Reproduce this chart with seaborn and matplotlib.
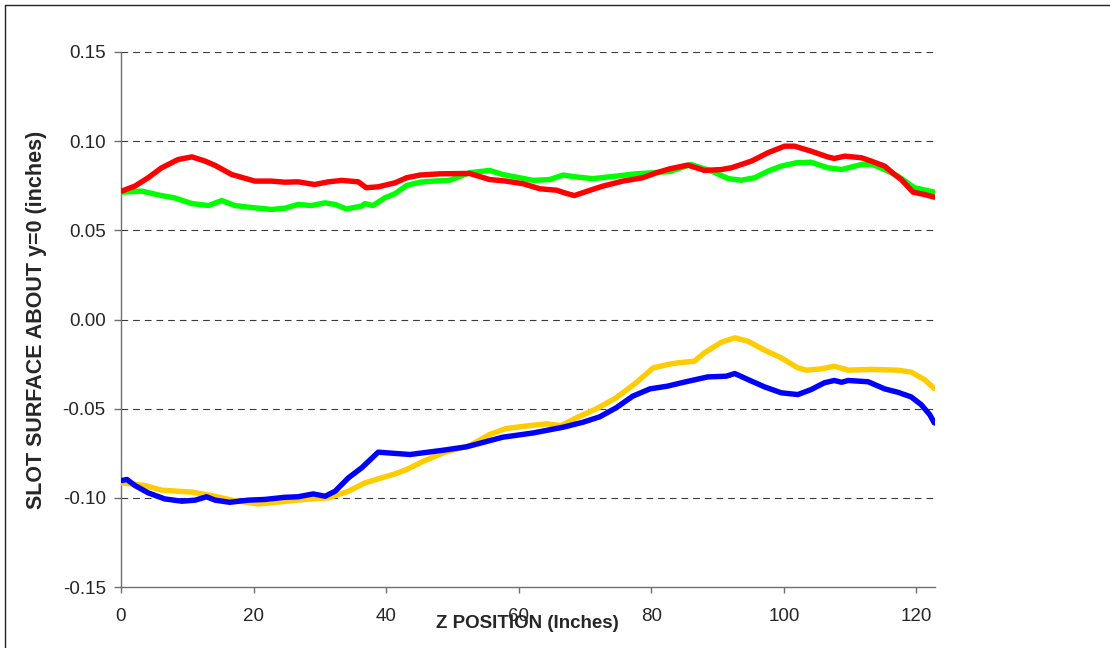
import matplotlib

matplotlib.use("Agg")
import matplotlib.pyplot as plt
from matplotlib.lines import Line2D
import pandas as pd
import seaborn as sns

# values (z in inches, surface in inches)
red_z = [0.1, 2.1, 4.1, 6.1, 8.6, 10.7, 12.7, 14.2, 16.7, 20.2, 22.7, 24.7, 26.7, 29.2,
         31.3, 33.3, 35.8, 37.0, 38.8, 41.3, 43.1, 45.1, 48.1, 52.6, 55.6, 58.1, 60.7,
         63.2, 65.7, 67.2, 68.4, 70.7, 72.7, 75.7, 78.7, 80.8, 82.8, 85.5, 88.0, 90.6,
         92.1, 95.1, 97.6, 100.1, 101.6, 104.1, 106.6, 107.6, 109.2, 111.7, 113.2,
         115.2, 116.7, 117.7, 119.5, 121.2, 122.7]
red_y = [0.0720, 0.0748, 0.0795, 0.0850, 0.0897, 0.0912, 0.0888, 0.0864, 0.0813, 0.0776,
         0.0776, 0.0770, 0.0772, 0.0757, 0.0772, 0.0780, 0.0772, 0.0739, 0.0744, 0.0766,
         0.0795, 0.0810, 0.0817, 0.0819, 0.0785, 0.0776, 0.0761, 0.0733, 0.0725, 0.0707,
         0.0695, 0.0724, 0.0748, 0.0776, 0.0795, 0.0823, 0.0845, 0.0866, 0.0836, 0.0841,
         0.0851, 0.0888, 0.0935, 0.0972, 0.0972, 0.0944, 0.0912, 0.0903, 0.0916, 0.0907,
         0.0888, 0.0860, 0.0813, 0.0785, 0.0714, 0.0701, 0.0686]

green_z = [0.1, 3.1, 6.1, 8.1, 10.7, 13.2, 15.2, 17.2, 19.2, 22.7, 24.7, 26.7, 28.7, 30.8,
           32.3, 34.0, 36.3, 36.8, 38.0, 39.8, 41.3, 43.1, 45.1, 47.1, 49.6, 52.6, 55.6,
           57.6, 62.2, 64.7, 66.7, 68.7, 71.2, 74.7, 77.7, 80.3, 82.8, 86.0, 89.1, 91.6,
           93.6, 95.6, 97.6, 99.6, 101.9, 104.1, 106.6, 108.7, 111.7, 113.4, 115.2,
           117.2, 119.7, 122.7]
green_y = [0.0714, 0.0720, 0.0695, 0.0682, 0.0650, 0.0639, 0.0667, 0.0639, 0.0630, 0.0617,
           0.0624, 0.0645, 0.0639, 0.0654, 0.0645, 0.0620, 0.0636, 0.0650, 0.0639, 0.0682,
           0.0705, 0.0752, 0.0770, 0.0776, 0.0781, 0.0823, 0.0836, 0.0813, 0.0780, 0.0785,
           0.0810, 0.0799, 0.0790, 0.0804, 0.0817, 0.0823, 0.0830, 0.0869, 0.0832, 0.0790,
           0.0781, 0.0795, 0.0832, 0.0860, 0.0879, 0.0882, 0.0851, 0.0841, 0.0869, 0.0869,
           0.0841, 0.0804, 0.0739, 0.0714]

yellow_z = [0.1, 3.6, 6.1, 10.7, 13.7, 16.7, 20.7, 24.2, 27.7, 31.3, 34.3, 36.8, 39.3,
            41.3, 43.1, 45.6, 48.6, 52.6, 55.6, 58.1, 61.7, 64.2, 66.4, 68.7, 71.7, 74.7,
            77.7, 80.3, 82.8, 84.0, 86.5, 88.0, 90.6, 92.6, 94.6, 97.1, 99.6, 102.1,
            103.4, 105.6, 107.6, 109.7, 113.2, 117.2, 119.2, 121.2, 122.7]
yellow_y = [-0.0916, -0.0931, -0.0957, -0.0968, -0.0987, -0.1013, -0.1034, -0.1022, -0.1009,
            -0.1000, -0.0963, -0.0916, -0.0888, -0.0866, -0.0841, -0.0795, -0.0748, -0.0707,
            -0.0645, -0.0611, -0.0595, -0.0585, -0.0595, -0.0551, -0.0501, -0.0439, -0.0355,
            -0.0271, -0.0250, -0.0243, -0.0234, -0.0187, -0.0127, -0.0103, -0.0122, -0.0172,
            -0.0215, -0.0271, -0.0284, -0.0277, -0.0262, -0.0284, -0.0280, -0.0284, -0.0295,
            -0.0337, -0.0387]

blue_z = [0.1, 0.9, 2.1, 4.1, 6.6, 9.2, 11.2, 12.9, 14.2, 16.4, 19.2, 21.7, 24.7, 26.7,
          29.0, 30.8, 32.3, 34.3, 36.3, 38.8, 41.0, 43.6, 48.6, 52.1, 57.6, 62.2, 66.7,
          69.7, 72.2, 74.7, 77.2, 79.8, 82.4, 85.0, 88.5, 91.3, 92.6, 94.6, 97.1, 99.6,
          102.1, 104.1, 106.1, 107.6, 108.7, 109.7, 112.7, 115.2, 117.2, 119.2, 120.7,
          122.0, 122.7]
blue_y = [-0.0903, -0.0897, -0.0931, -0.0972, -0.1006, -0.1019, -0.1013, -0.0994, -0.1013,
          -0.1025, -0.1013, -0.1009, -0.0997, -0.0994, -0.0978, -0.0991, -0.0963, -0.0888,
          -0.0832, -0.0744, -0.0750, -0.0757, -0.0733, -0.0714, -0.0660, -0.0636, -0.0604,
          -0.0576, -0.0546, -0.0495, -0.0430, -0.0389, -0.0374, -0.0351, -0.0322, -0.0318,
          -0.0303, -0.0337, -0.0378, -0.0411, -0.0421, -0.0393, -0.0355, -0.0342, -0.0352,
          -0.0342, -0.0349, -0.0389, -0.0408, -0.0434, -0.0477, -0.0533, -0.0580]

x_ticks = [0, 20, 40, 60, 80, 100, 120]
y_ticks = [-0.15, -0.10, -0.05, 0.00, 0.05, 0.10, 0.15]
y_tick_labels = ["-0.15", "-0.10", "-0.05", "0.00", "0.05", "0.10", "0.15"]

series = [
    ("green", green_z, green_y, "#00FF00"),
    ("red", red_z, red_y, "#FF0000"),
    ("yellow", yellow_z, yellow_y, "#FFCC00"),
    ("blue", blue_z, blue_y, "#0000FF"),
]

sns.set_theme(style="white")
plt.rcParams["font.family"] = ["Liberation Sans", "DejaVu Sans"]

fig = plt.figure(figsize=(11.1, 6.48), dpi=100)
ax = fig.add_axes([121 / 1110, 1 - 587 / 648, (935 - 121) / 1110, (587 - 52) / 648])

# dashed horizontal gridlines, drawn under the curves
for yv in y_ticks[1:]:
    ax.axhline(yv, color="#3a3a3a", lw=0.8, ls=(0, (6, 4.5)), zorder=1)

for name, z, y, color in series:
    df = pd.DataFrame({"z": z, "y": y})
    sns.lineplot(data=df, x="z", y="y", ax=ax, color=color, lw=3.9,
                 sort=False, estimator=None, zorder=3)

ax.set_xlim(0, 122.8)
ax.set_ylim(-0.15, 0.15)
ax.set_xticks(x_ticks)
ax.set_xticklabels([str(t) for t in x_ticks], fontsize=13.5)
ax.set_yticks(y_ticks)
ax.set_yticklabels(y_tick_labels, fontsize=13.5)

for side in ["top", "right"]:
    ax.spines[side].set_visible(False)
for side in ["left", "bottom"]:
    ax.spines[side].set_color("#707070")
    ax.spines[side].set_linewidth(1.0)

ax.tick_params(axis="y", direction="out", length=5, width=1, color="#707070", pad=6,
               left=True)
ax.tick_params(axis="x", direction="out", length=4, width=1, color="#707070", pad=11,
               bottom=True)

ax.set_xlabel("Z POSITION (Inches)", fontsize=13.5, fontweight="bold")
ax.xaxis.set_label_coords((527 - 121) / (935 - 121), -(615 - 587) / (587 - 52))
ax.set_ylabel("SLOT SURFACE ABOUT y=0 (inches)", fontsize=15.5, fontweight="bold")
ax.yaxis.set_label_coords(-(121 - 47) / (935 - 121), 0.5)

# outer chart border (left and top edges visible in the reference)
fig.add_artist(Line2D([4.5 / 1110, 4.5 / 1110], [0, 1 - 4.5 / 648], color="#222222",
                      lw=1.0, transform=fig.transFigure))
fig.add_artist(Line2D([4.5 / 1110, 1], [1 - 4.5 / 648, 1 - 4.5 / 648], color="#222222",
                      lw=1.0, transform=fig.transFigure))

fig.savefig("out.png", dpi=100)
